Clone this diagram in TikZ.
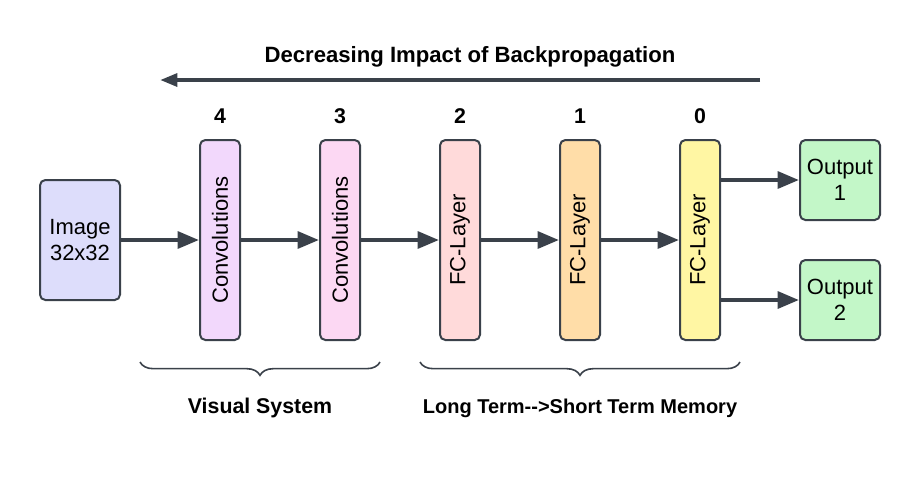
\documentclass[tikz,border=0pt]{standalone}
\usepackage{fontspec}
\setmainfont{Liberation Sans}
\usetikzlibrary{arrows.meta,decorations.pathreplacing}
\definecolor{ink}{HTML}{3A414A}
\definecolor{imgfill}{HTML}{DDDDFB}
\definecolor{convA}{HTML}{F2D8FC}
\definecolor{convB}{HTML}{FCD8F3}
\definecolor{fcA}{HTML}{FFDADA}
\definecolor{fcB}{HTML}{FFDDA8}
\definecolor{fcC}{HTML}{FFF6A3}
\definecolor{outfill}{HTML}{C3F7C8}
\tikzset{
  box/.style={draw=ink,line width=1.5pt,rounded corners=4pt,align=center,
    font=\fontsize{16.5}{19.5}\selectfont,inner sep=0pt},
  layer/.style={box,minimum width=30pt,minimum height=150pt},
  arr/.style={draw=ink,line width=3pt,-{Triangle[length=16pt,width=12.5pt]}},
  hdr/.style={font=\bfseries\fontsize{16}{18}\selectfont}
}
\begin{document}
\begin{tikzpicture}[x=0.75pt,y=-0.75pt]
    \useasboundingbox (0,0) rectangle (919,480);
    % input and outputs
    \node[box,fill=imgfill,minimum width=60pt,minimum height=90pt] (img) at (80,240) {Image\\32x32};
    \node[box,fill=outfill,minimum width=60pt,minimum height=60pt] (o1) at (840,180) {Output\\1};
    \node[box,fill=outfill,minimum width=60pt,minimum height=60pt] (o2) at (840,300) {Output\\2};
    % layers, numbered from the output side
    \foreach \k/\x/\c/\t in {4/220/convA/Convolutions,3/340/convB/Convolutions,
                             2/460/fcA/FC-Layer,1/580/fcB/FC-Layer,0/700/fcC/FC-Layer}{%
      \node[layer,fill=\c] (l\k) at (\x,240) {\rotatebox{90}{\t}};
      \node[hdr] (n\k) at (\x,116) {\k};}
    % forward connections
    \draw[arr] (img) -- (l4);
    \foreach \a/\b in {4/3,3/2,2/1,1/0}{%
      \draw[arr] (l\a) -- (l\b);}
    \draw[arr] (l0.east |- o1.west) -- (o1.west);
    \draw[arr] (l0.east |- o2.west) -- (o2.west);
    % backpropagation
    \node[hdr,font=\bfseries\fontsize{16.6}{18}\selectfont] (bp) at (470,57) {Decreasing Impact of Backpropagation};
    \coordinate (bpR) at (760,80);
    \coordinate (bpL) at (160,80);
    \draw[draw=ink,line width=3pt,-{Triangle[length=13pt,width=9.5pt]}] (bpR) -- (bpL);
    % groups
    \coordinate (vsL) at (140,362); \coordinate (vsR) at (380,362);
    \coordinate (ltL) at (420,362); \coordinate (ltR) at (740,362);
    \draw[ink,line width=1.2pt,decorate,decoration={brace,mirror,amplitude=10pt}] (vsL) -- (vsR);
    \draw[ink,line width=1.2pt,decorate,decoration={brace,mirror,amplitude=10pt}] (ltL) -- (ltR);
    \node[hdr] (vs) at (260,408) {Visual System};
    \node[hdr,font=\bfseries\fontsize{15}{18}\selectfont] (lt) at (580,408) {Long Term{-}{-}>Short Term Memory};
\end{tikzpicture}
\end{document}
